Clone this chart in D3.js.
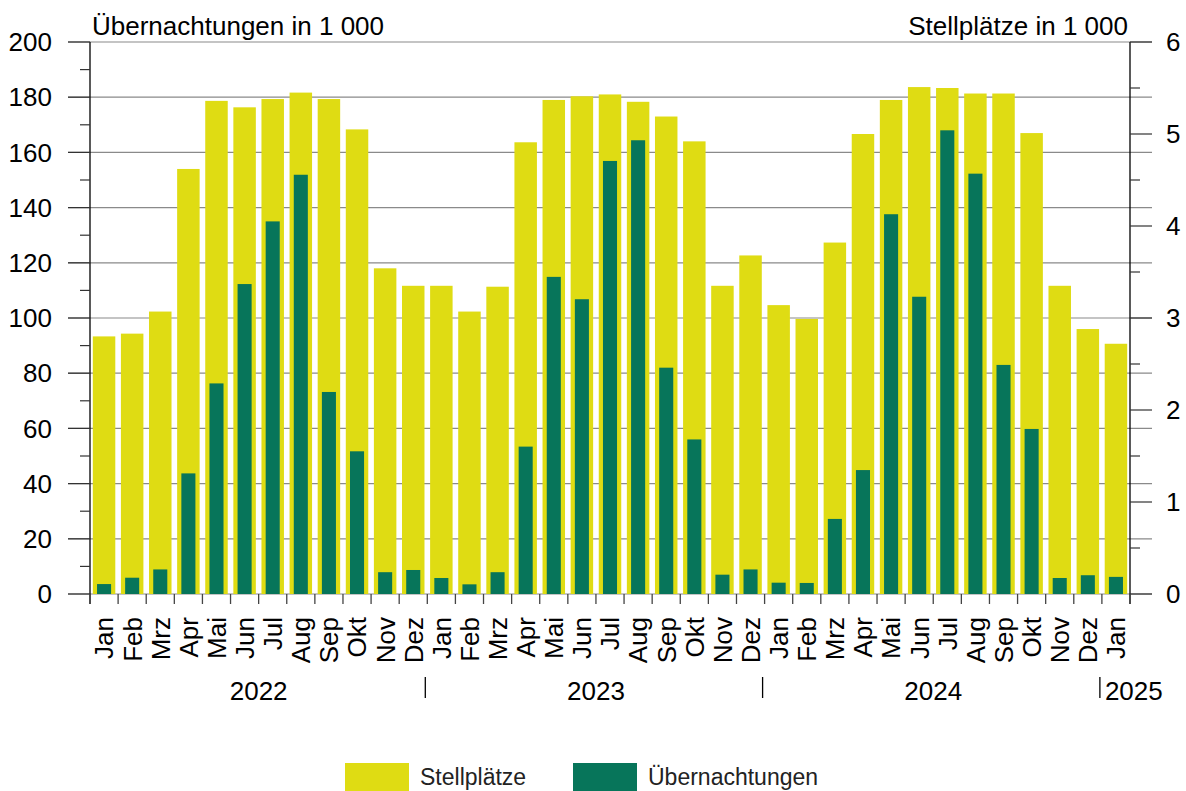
<!DOCTYPE html>
<html>
<head>
<meta charset="utf-8">
<script src="https://cdn.jsdelivr.net/npm/d3@7"></script>
<style>
  body { margin: 0; background: #fff; }
  svg { display: block; font-family: Arial, "Liberation Sans", sans-serif; }
</style>
</head>
<body>
<div id="chart"></div>
<script>
const width = 1186;
const height = 791;
const margin = { top: 42, bottom: 197, left: 90, right: 56 };

const monthLabels = [
    'Jan', 'Feb', 'Mrz', 'Apr', 'Mai', 'Jun', 'Jul', 'Aug', 'Sep', 'Okt', 'Nov', 'Dez',
    'Jan', 'Feb', 'Mrz', 'Apr', 'Mai', 'Jun', 'Jul', 'Aug', 'Sep', 'Okt', 'Nov', 'Dez',
    'Jan', 'Feb', 'Mrz', 'Apr', 'Mai', 'Jun', 'Jul', 'Aug', 'Sep', 'Okt', 'Nov', 'Dez',
    'Jan'
];
const yearLabels = ['2022', '2023', '2024', '2025'];
const yearSpans = [12, 12, 12, 1];

// Stellplätze in 1 000 (right axis)
const stellplaetze = [
    2.80, 2.83, 3.07, 4.62, 5.36, 5.29, 5.38, 5.45, 5.38, 5.05, 3.54, 3.35,
    3.35, 3.07, 3.34, 4.91, 5.37, 5.41, 5.43, 5.35, 5.19, 4.92, 3.35, 3.68,
    3.14, 2.99, 3.82, 5.00, 5.37, 5.51, 5.50, 5.44, 5.44, 5.01, 3.35, 2.88,
    2.72
];
// Übernachtungen in 1 000 (left axis)
const uebernachtungen = [
    3.6, 5.9, 8.9, 43.7, 76.3, 112.3, 135.0, 151.9, 73.2, 51.7, 7.9, 8.7,
    5.8, 3.5, 7.9, 53.4, 114.9, 106.8, 156.9, 164.4, 82.0, 56.0, 7.0, 8.9,
    4.1, 4.0, 27.2, 44.9, 137.6, 107.7, 168.0, 152.3, 83.0, 59.8, 5.8, 6.8,
    6.2
];

const leftTicks = [0, 20, 40, 60, 80, 100, 120, 140, 160, 180, 200];
const rightTicks = [0, 1, 2, 3, 4, 5, 6];

const yellow = '#dfdc13';
const green = '#07755a';

const svg = d3.select('#chart')
    .append('svg')
    .attr('width', width)
    .attr('height', height);

const x = d3.scaleBand()
    .domain(d3.range(monthLabels.length))
    .range([margin.left, width - margin.right])
    .padding(0);

const yLeft = d3.scaleLinear()
    .domain([0, 200])
    .range([height - margin.bottom, margin.top]);

const yRight = d3.scaleLinear()
    .domain([0, 6])
    .range([height - margin.bottom, margin.top]);

const step = x.step();
const plotLeft = margin.left;
const plotRight = width - margin.right;
const baseY = yLeft(0);

// gridlines
svg.append('g')
    .selectAll('line')
    .data(leftTicks)
    .join('line')
        .attr('x1', plotLeft - 22)
        .attr('x2', plotRight + 22)
        .attr('y1', d => yLeft(d))
        .attr('y2', d => yLeft(d))
        .attr('stroke', '#8a8a8a')
        .attr('stroke-width', 1.2);

// Stellplätze bars
svg.append('g')
    .attr('fill', yellow)
    .selectAll('rect')
    .data(stellplaetze)
    .join('rect')
        .attr('x', (d, i) => x(i) + step * 0.1)
        .attr('y', d => yRight(d))
        .attr('width', step * 0.8)
        .attr('height', d => yRight(0) - yRight(d));

// Übernachtungen bars
svg.append('g')
    .attr('fill', green)
    .selectAll('rect')
    .data(uebernachtungen)
    .join('rect')
        .attr('x', (d, i) => x(i) + step * 0.25)
        .attr('y', d => yLeft(d))
        .attr('width', step * 0.5)
        .attr('height', d => yLeft(0) - yLeft(d));

// left axis
const leftAxis = svg.append('g');
leftAxis.append('line')
    .attr('x1', plotLeft).attr('x2', plotLeft)
    .attr('y1', margin.top).attr('y2', baseY + 10)
    .attr('stroke', '#000').attr('stroke-width', 1.3);
leftAxis.selectAll('.major')
    .data(leftTicks)
    .join('line')
        .attr('class', 'major')
        .attr('x1', plotLeft - 22).attr('x2', plotLeft)
        .attr('y1', d => yLeft(d)).attr('y2', d => yLeft(d))
        .attr('stroke', '#333').attr('stroke-width', 1.2);
leftAxis.selectAll('.minor')
    .data(d3.range(10, 200, 20))
    .join('line')
        .attr('class', 'minor')
        .attr('x1', plotLeft - 10).attr('x2', plotLeft)
        .attr('y1', d => yLeft(d)).attr('y2', d => yLeft(d))
        .attr('stroke', '#333').attr('stroke-width', 1.2);
leftAxis.selectAll('text')
    .data(leftTicks)
    .join('text')
        .attr('x', 52)
        .attr('y', d => yLeft(d))
        .attr('dy', '0.35em')
        .attr('text-anchor', 'end')
        .attr('font-size', '26px')
        .attr('fill', '#000')
        .text(d => d);

// right axis
const rightAxis = svg.append('g');
rightAxis.append('line')
    .attr('x1', plotRight).attr('x2', plotRight)
    .attr('y1', margin.top).attr('y2', baseY + 10)
    .attr('stroke', '#000').attr('stroke-width', 1.3);
rightAxis.selectAll('.major')
    .data(rightTicks)
    .join('line')
        .attr('class', 'major')
        .attr('x1', plotRight).attr('x2', plotRight + 22)
        .attr('y1', d => yRight(d)).attr('y2', d => yRight(d))
        .attr('stroke', '#333').attr('stroke-width', 1.2);
rightAxis.selectAll('.minor')
    .data(d3.range(0.5, 6, 1))
    .join('line')
        .attr('class', 'minor')
        .attr('x1', plotRight).attr('x2', plotRight + 10)
        .attr('y1', d => yRight(d)).attr('y2', d => yRight(d))
        .attr('stroke', '#333').attr('stroke-width', 1.2);
rightAxis.selectAll('text')
    .data(rightTicks)
    .join('text')
        .attr('x', 1166)
        .attr('y', d => yRight(d))
        .attr('dy', '0.35em')
        .attr('text-anchor', 'start')
        .attr('font-size', '26px')
        .attr('fill', '#000')
        .text(d => d);

// axis titles
svg.append('text')
    .attr('x', plotLeft + 2)
    .attr('y', 35)
    .attr('font-size', '26px')
    .text('Übernachtungen in 1 000');
svg.append('text')
    .attr('x', plotRight - 2)
    .attr('y', 35)
    .attr('text-anchor', 'end')
    .attr('font-size', '26px')
    .text('Stellplätze in 1 000');

// x axis ticks at band edges
const xTicks = d3.range(monthLabels.length + 1).map(i => plotLeft + i * step);
svg.append('g')
    .selectAll('line')
    .data(xTicks)
    .join('line')
        .attr('x1', d => d).attr('x2', d => d)
        .attr('y1', baseY).attr('y2', baseY + 10)
        .attr('stroke', '#444').attr('stroke-width', 1.3);

// month labels
svg.append('g')
    .selectAll('text')
    .data(monthLabels)
    .join('text')
        .attr('transform', (d, i) => `translate(${x(i) + step / 2}, 617) rotate(-90)`)
        .attr('dy', '0.36em')
        .attr('text-anchor', 'end')
        .attr('font-size', '26px')
        .text(d => d);

// year labels and separators
const yearStarts = yearSpans.map((s, i) => d3.sum(yearSpans.slice(0, i)));
svg.append('g')
    .selectAll('line')
    .data(yearStarts.slice(1))
    .join('line')
        .attr('x1', d => x(d) - 2).attr('x2', d => x(d) - 2)
        .attr('y1', 677).attr('y2', 698)
        .attr('stroke', '#000').attr('stroke-width', 1.3);
svg.append('g')
    .selectAll('text')
    .data(yearLabels)
    .join('text')
        .attr('x', (d, i) => yearSpans[i] > 1
            ? x(yearStarts[i]) + yearSpans[i] * step / 2
            : x(yearStarts[i]) + 3)
        .attr('y', 700)
        .attr('text-anchor', (d, i) => yearSpans[i] > 1 ? 'middle' : 'start')
        .attr('font-size', '26px')
        .text(d => d);

// legend
const legendItems = [
    { label: 'Stellplätze', color: yellow, x: 345 },
    { label: 'Übernachtungen', color: green, x: 573 }
];
const legend = svg.append('g')
    .selectAll('g')
    .data(legendItems)
    .join('g')
        .attr('transform', d => `translate(${d.x}, 763)`);
legend.append('rect')
    .attr('width', 64)
    .attr('height', 30)
    .attr('fill', d => d.color);
legend.append('text')
    .attr('x', 75)
    .attr('y', 22)
    .attr('font-size', '23px')
    .attr('fill', '#222')
    .text(d => d.label);
</script>
</body>
</html>
